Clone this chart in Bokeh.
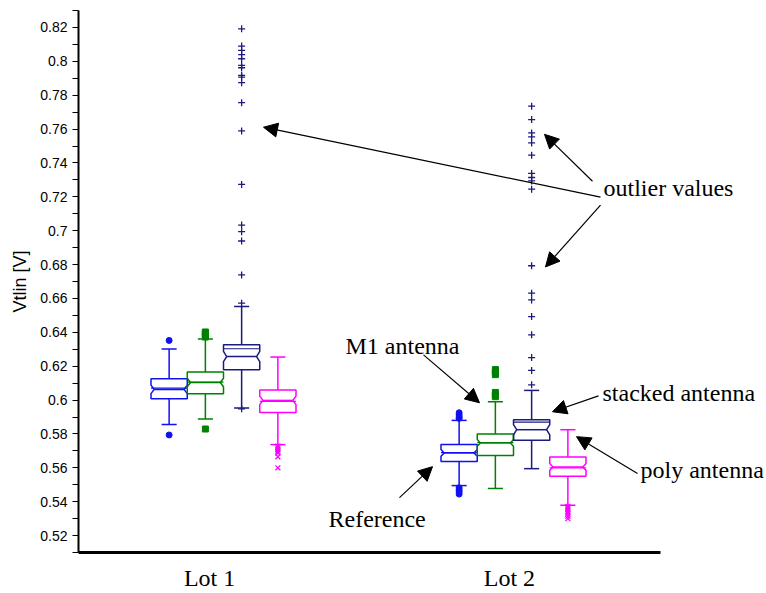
import math
from bokeh.plotting import figure
from bokeh.models import FixedTicker, Label, Arrow, NormalHead, Range1d
from bokeh.embed import file_html
from bokeh.resources import INLINE

# ---------------- data ----------------
lots = ["Lot 1", "Lot 2"]
lot_pos = [1.0, 2.0]
lot_label_pos = [0.952, 1.986]
series = ["Reference", "M1 antenna", "stacked antenna", "poly antenna"]
series_offset = [-1.5, -0.5, 0.5, 1.5]
colors = ["#1010f0", "#008000", "#1a1a80", "#ff00ff"]
markers = ["circle", "square", "cross", "x"]

# per series, one value per lot
q1 = [[0.6008, 0.5637], [0.6037, 0.5672], [0.6179, 0.5762], [0.5927, 0.5550]]
q3 = [[0.6126, 0.5737], [0.6165, 0.5800], [0.6326, 0.5884], [0.6059, 0.5664]]
median = [[0.6063, 0.5688], [0.6104, 0.5747], [0.6257, 0.5825], [0.5998, 0.5605]]
mean = [[0.6071, 0.5690], [0.6106, 0.5749], [0.6303, 0.5870], [0.5992, 0.5600]]
notch = [[0.0025, 0.0020], [0.0025, 0.0020], [0.0030, 0.0030], [0.0025, 0.0020]]
whisk_lo = [[0.5855, 0.5495], [0.5888, 0.5478], [0.5953, 0.5595], [0.5737, 0.5379]]
whisk_hi = [[0.6301, 0.5880], [0.6360, 0.5990], [0.6552, 0.6057], [0.6254, 0.5825]]
outliers = [
    [[0.6352, 0.5794],
     [0.5925, 0.5912, 0.5900, 0.5892, 0.5482, 0.5470, 0.5458, 0.5445]],
    [[0.6402, 0.6395, 0.6388, 0.6380, 0.6372, 0.5829],
     [0.6180, 0.6165, 0.6150, 0.6045, 0.6030, 0.6020]],
    [[0.8192, 0.8090, 0.8064, 0.8040, 0.8015, 0.7976, 0.7962, 0.7917, 0.7907,
      0.7874, 0.7756, 0.7589, 0.7273, 0.7033, 0.6994, 0.6939, 0.6739, 0.6572, 0.5948],
     [0.7735, 0.7656, 0.7577, 0.7554, 0.7518, 0.7446, 0.7338, 0.7314, 0.7294,
      0.7245, 0.6793, 0.6631, 0.6591, 0.6493, 0.6385, 0.6251, 0.6175, 0.6090]],
    [[0.5728, 0.5718, 0.5708, 0.5698, 0.5688, 0.5665, 0.5600],
     [0.5372, 0.5362, 0.5352, 0.5340, 0.5328, 0.5314, 0.5300]],
]

y_ticks = [0.52, 0.54, 0.56, 0.58, 0.60, 0.62, 0.64, 0.66, 0.68, 0.70,
           0.72, 0.74, 0.76, 0.78, 0.80, 0.82]
y_tick_labels = ["0.52", "0.54", "0.56", "0.58", "0.6", "0.62", "0.64", "0.66",
                 "0.68", "0.7", "0.72", "0.74", "0.76", "0.78", "0.8", "0.82"]
y_minor = [0.51, 0.53, 0.55, 0.57, 0.59, 0.61, 0.63, 0.65, 0.67, 0.69, 0.71,
           0.73, 0.75, 0.77, 0.79, 0.81, 0.83]
y_title = "Vtlin [V]"

# annotations: (text, x, y) and arrows (x0, y0, x1, y1)
notes = [("outlier values", 2.3103, 0.7252),
         ("M1 antenna", 1.4207, 0.6320),
         ("stacked antenna", 2.3069, 0.6043),
         ("poly antenna", 2.4379, 0.5589),
         ("Reference", 1.3620, 0.5295)]
arrows = [(2.300, 0.7198, 1.1379, 0.7611),
          (2.2724, 0.7292, 2.1069, 0.7569),
          (2.300, 0.7151, 2.1103, 0.6786),
          (1.6897, 0.6267, 1.8828, 0.5984),
          (2.2931, 0.6025, 2.1345, 0.5931),
          (2.4276, 0.5566, 2.2172, 0.5784),
          (1.6069, 0.5424, 1.7207, 0.5607)]

BOX_W = 0.125
HALF = BOX_W / 2
CAP = 0.026
INSET = 0.011
X_AXIS_END = 2.5069

# ---------------- figure ----------------
p = figure(width=766, height=593,
           x_range=Range1d(0.5, 2.8724), y_range=Range1d(0.51, 0.83),
           output_backend="svg", toolbar_location=None,
           title=y_title, title_location="left",
           min_border_left=78, min_border_right=0,
           min_border_top=10, min_border_bottom=40)
p.xgrid.visible = False
p.ygrid.visible = False
p.outline_line_color = None
p.background_fill_color = "white"
p.border_fill_color = "white"

p.title.align = "center"
p.title.standoff = 15
p.title.text_font = "Liberation Sans"
p.title.text_font_size = "18px"
p.title.text_font_style = "normal"
p.title.text_color = "black"

for s in range(4):
    col = colors[s]
    xs_box, ys_box = [], []
    med_x0, med_x1, med_y = [], [], []
    mean_x0, mean_x1, mean_y = [], [], []
    wx, wy0, wy1 = [], [], []
    cx0, cx1, cy = [], [], []
    ox, oy = [], []
    for l in range(2):
        c = lot_pos[l] + series_offset[s] * BOX_W
        a, b, m, n = q1[s][l], q3[s][l], median[s][l], notch[s][l]
        xs_box.append([c - HALF, c + HALF, c + HALF, c + HALF - INSET, c + HALF,
                       c + HALF, c - HALF, c - HALF, c - HALF + INSET, c - HALF])
        ys_box.append([b, b, m + n, m, m - n, a, a, m - n, m, m + n])
        med_x0.append(c - HALF + INSET); med_x1.append(c + HALF - INSET); med_y.append(m)
        mean_x0.append(c - HALF); mean_x1.append(c + HALF); mean_y.append(mean[s][l])
        wx += [c, c]; wy0 += [b, a]; wy1 += [whisk_hi[s][l], whisk_lo[s][l]]
        cx0 += [c - CAP, c - CAP]; cx1 += [c + CAP, c + CAP]
        cy += [whisk_hi[s][l], whisk_lo[s][l]]
        for v in outliers[s][l]:
            ox.append(c); oy.append(v)
    p.segment(wx, wy0, wx, wy1, line_color=col, line_width=1.5)
    p.segment(cx0, cy, cx1, cy, line_color=col, line_width=1.5)
    p.patches(xs_box, ys_box, fill_color=None, line_color=col, line_width=1.5)
    p.segment(med_x0, med_y, med_x1, med_y, line_color=col, line_width=1.5)
    p.segment(mean_x0, mean_y, mean_x1, mean_y, line_color=col, line_width=1.2)
    if markers[s] in ("cross", "x"):
        p.scatter(ox, oy, marker=markers[s], size=7, line_color=col, line_width=1.3)
    else:
        p.scatter(ox, oy, marker=markers[s], size=6, fill_color=col, line_color=col)

# ---------------- axes ----------------
xa = p.xaxis[0]
xa.bounds = (0.5, X_AXIS_END)
xa.ticker = FixedTicker(ticks=lot_label_pos, minor_ticks=[])
xa.major_label_overrides = {lot_label_pos[i]: lots[i] for i in range(2)}
xa.major_tick_out = 0
xa.major_tick_in = 0
xa.minor_tick_out = 0
xa.axis_line_width = 3
xa.axis_line_color = "black"
xa.major_label_text_font = "Liberation Serif"
xa.major_label_text_font_size = "24px"
xa.major_label_text_color = "black"
xa.major_label_standoff = 12

ya = p.yaxis[0]
ya.ticker = FixedTicker(ticks=y_ticks, minor_ticks=y_minor)
ya.major_label_overrides = {y_ticks[i]: y_tick_labels[i] for i in range(len(y_ticks))}
ya.major_tick_out = 6
ya.major_tick_in = 0
ya.minor_tick_out = 6
ya.minor_tick_in = 0
ya.axis_line_width = 2
ya.axis_line_color = "black"
ya.major_tick_line_color = "black"
ya.minor_tick_line_color = "black"
ya.major_label_text_font = "Liberation Sans"
ya.major_label_text_font_size = "14px"
ya.major_label_text_color = "black"
ya.major_label_standoff = 5

for (t, x, y) in notes:
    p.add_layout(Label(x=x, y=y, text=t, text_align="left", text_baseline="middle",
                       text_font="Liberation Serif", text_font_size="24px",
                       text_color="black"))

for (x0, y0, x1, y1) in arrows:
    p.add_layout(Arrow(x_start=x0, y_start=y0, x_end=x1, y_end=y1,
                       line_color="black", line_width=1.2,
                       end=NormalHead(size=14, fill_color="black", line_color="black")))

open("out.html", "w").write(file_html(p, INLINE))
